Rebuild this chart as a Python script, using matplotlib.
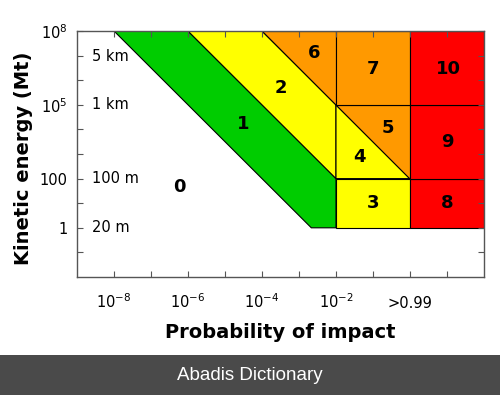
import matplotlib
import matplotlib.pyplot as plt
from matplotlib.patches import Polygon, Rectangle

matplotlib.use('Agg')

# x = log10(probability), y = log10(kinetic energy in Mt)
x_ticks = [-8, -6, -4, -2, 0]
x_ticklabels = [r'$10^{-8}$', r'$10^{-6}$', r'$10^{-4}$', r'$10^{-2}$', '>0.99']
x_minor = [-7, -5, -3, -1, 1]
y_ticks = [0, 2, 5, 8]
y_ticklabels = ['1', '100', r'$10^{5}$', r'$10^{8}$']
y_minor = [-1, 1, 3, 4, 6, 7]

size_names = ['5 km', '1 km', '100 m', '20 m']
size_levels = [6.95, 5, 2, 0]

# region vertices (log10 P, log10 E) and colours
regions = [
    ([(-8, 8), (-6, 8), (-2, 2), (-2, 0), (-2.667, 0)], '#00cc00'),   # 1
    ([(-6, 8), (-4, 8), (-2, 5), (-2, 2)], '#ffff00'),                # 2
    ([(-4, 8), (-2, 8), (-2, 5)], '#ff9900'),                         # 6
    ([(-2, 5), (0, 2), (-2, 2)], '#ffff00'),                          # 4
    ([(-2, 5), (0, 5), (0, 2)], '#ff9900'),                           # 5
    ([(-2, 5), (0, 5), (0, 8), (-2, 8)], '#ff9900'),                  # 7
    ([(-2, 0), (0, 0), (0, 2), (-2, 2)], '#ffff00'),                  # 3
    ([(0, 0), (2, 0), (2, 2), (0, 2)], '#ff0000'),                    # 8
    ([(0, 2), (2, 2), (2, 5), (0, 5)], '#ff0000'),                    # 9
    ([(0, 5), (2, 5), (2, 8), (0, 8)], '#ff0000'),                    # 10
]

scale_labels = ['0', '1', '2', '3', '4', '5', '6', '7', '8', '9', '10']
label_x = [-6.22, -4.51, -3.49, -1.0, -1.38, -0.6, -2.59, -1.0, 1.0, 1.0, 1.03]
label_y = [1.64, 4.23, 5.69, 1.0, 2.86, 4.07, 7.1, 6.46, 1.0, 3.5, 6.46]


def main():
    fig = plt.figure(figsize=(5.0, 3.95), dpi=100)
    ax = fig.add_axes([0.154, 0.2987, 0.814, 0.6228])
    ax.set_xlim(-9, 2)
    ax.set_ylim(-2, 8)

    for verts, col in regions:
        ax.add_patch(Polygon(verts, closed=True, facecolor=col,
                             edgecolor='black', linewidth=0.8, zorder=1))

    for txt, x, y in zip(scale_labels, label_x, label_y):
        ax.text(x, y, txt, fontsize=13, fontweight='bold',
                ha='center', va='center', zorder=3)

    for name, lev in zip(size_names, size_levels):
        ax.text(-8.6, lev, name, fontsize=10.5, ha='left', va='center')

    ax.set_xticks(x_ticks)
    ax.set_xticklabels(x_ticklabels)
    ax.set_xticks(x_minor, minor=True)
    ax.set_yticks(y_ticks)
    ax.set_yticklabels(y_ticklabels)
    ax.set_yticks(y_minor, minor=True)

    for s in ax.spines.values():
        s.set_color('#555555')
        s.set_linewidth(1.0)
        s.set_zorder(4)
    ax.tick_params(which='both', direction='in', length=4, width=0.8,
                   color='#555555', top=True, right=True, labelsize=10.5)
    ax.tick_params(axis='x', which='major', pad=22)
    ax.tick_params(axis='y', which='major', pad=7)
    for lab in ax.get_xticklabels():
        lab.set_verticalalignment('baseline')

    fig.text(0.56, 1 - 333 / 395, 'Probability of impact', fontsize=14,
             fontweight='bold', ha='center', va='center')
    fig.text(24 / 500, 1 - 158 / 395, 'Kinetic energy (Mt)', fontsize=14,
             fontweight='bold', ha='center', va='center', rotation=90)

    # bottom banner
    fig.patches.append(Rectangle((0, 0), 1, 40 / 395, transform=fig.transFigure,
                                 facecolor='#4a4a4a', edgecolor='none'))
    fig.text(0.5, 20 / 395, 'Abadis Dictionary', fontsize=13.5, color='white',
             family='Liberation Sans', ha='center', va='center')

    fig.savefig('out.png', dpi=100)


if __name__ == "__main__":
    main()
